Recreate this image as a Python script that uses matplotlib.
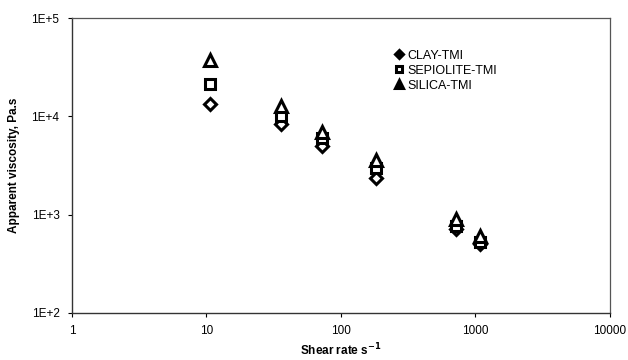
import matplotlib
matplotlib.use("Agg")
import matplotlib.pyplot as plt
from matplotlib.ticker import FixedLocator, FixedFormatter, NullLocator

plt.rcParams['font.family'] = ['Liberation Sans', 'DejaVu Sans']

# data
shear_rate = [10.6, 35.6, 72, 181, 724, 1080]
clay = [13300, 8400, 5000, 2350, 720, 500]
sepiolite = [21300, 10000, 6000, 2950, 770, 530]
silica = [37400, 12600, 6900, 3600, 900, 600]

series = [
    ("CLAY-TMI", clay, "D", 6.5),
    ("SEPIOLITE-TMI", sepiolite, "s", 7.5),
    ("SILICA-TMI", silica, "^", 8.5),
]

fig = plt.figure(figsize=(6.28, 3.6), dpi=100)
ax = fig.add_axes([0.1146, 0.1306, 0.8564, 0.8194])

for name, vals, mk, ms in series:
    ax.plot(shear_rate, vals, linestyle='none', marker=mk, markersize=ms,
            markerfacecolor='white', markeredgecolor='black',
            markeredgewidth=2.2, label=name)

ax.set_xscale('log')
ax.set_yscale('log')
ax.set_xlim(1, 10000)
ax.set_ylim(100, 100000)

ax.xaxis.set_major_locator(FixedLocator([1, 10, 100, 1000, 10000]))
ax.xaxis.set_major_formatter(FixedFormatter(['1', '10', '100', '1000', '10000']))
ax.yaxis.set_major_locator(FixedLocator([100, 1000, 10000, 100000]))
ax.yaxis.set_major_formatter(FixedFormatter(['1E+2', '1E+3', '1E+4', '1E+5']))
ax.xaxis.set_minor_locator(NullLocator())
ax.yaxis.set_minor_locator(NullLocator())
ax.tick_params(axis='both', which='major', direction='out', length=3,
               width=0.8, labelsize=8.5, pad=6)

for side in ['left', 'bottom']:
    ax.spines[side].set_color('#333333')
    ax.spines[side].set_linewidth(1.0)
for side in ['top', 'right']:
    ax.spines[side].set_color('#555555')
    ax.spines[side].set_linewidth(0.9)

ax.set_xlabel(r'Shear rate s$^{\mathbf{-1}}$', fontsize=8.5, fontweight='bold', labelpad=3)
ax.set_ylabel('Apparent viscosity, Pa.s', fontsize=8.5, fontweight='bold', labelpad=8)

leg = ax.legend(loc='upper left', bbox_to_anchor=(0.585, 0.91), frameon=False,
                fontsize=9, handletextpad=0.1, labelspacing=0.25,
                markerscale=0.6, handlelength=1.2, borderaxespad=0)
for h, (name, vals, mk, ms) in zip(leg.legend_handles, series):
    if mk != 's':
        h.set_markerfacecolor('black')

fig.savefig('out.png', dpi=100)
